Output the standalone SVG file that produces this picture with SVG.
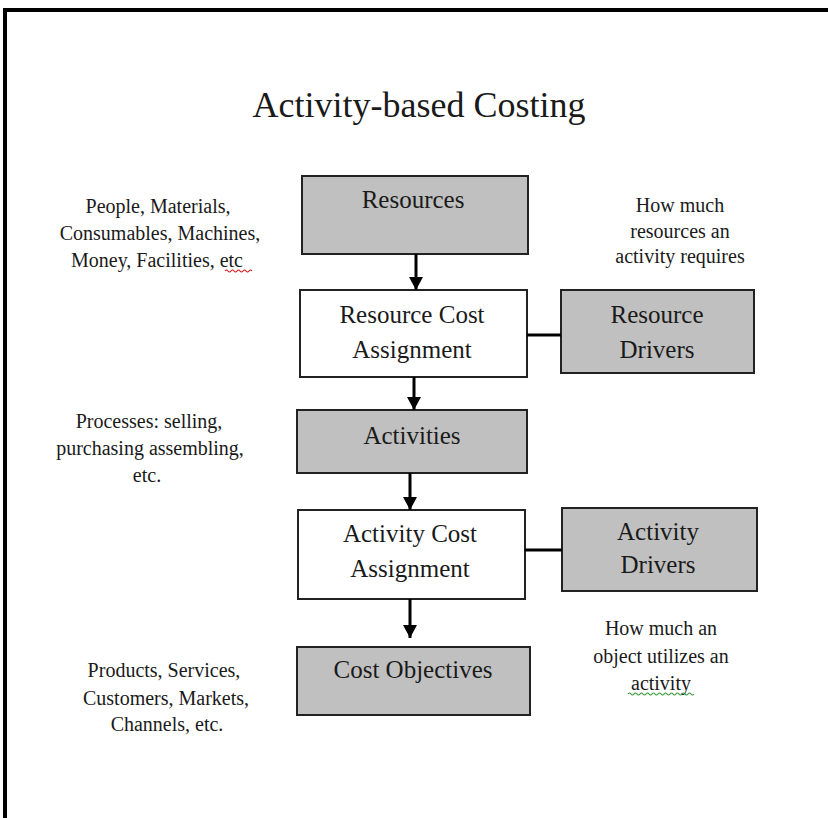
<svg xmlns="http://www.w3.org/2000/svg" width="828" height="818" viewBox="0 0 828 818">
<style>
  .bg { fill: #ffffff; }
  .frame { fill: none; stroke: #000; stroke-width: 4; }
  .gray { fill: #c0c0c0; stroke: #222; stroke-width: 2; }
  .white { fill: #ffffff; stroke: #222; stroke-width: 2; }
  .t { font-family: "Liberation Serif", "Times New Roman", serif; fill: #1a1a1a; text-anchor: middle; }
  .title { font-size: 36px; }
  .box { font-size: 25px; }
  .note { font-size: 20px; }
  .conn { stroke: #000; stroke-width: 3; fill: none; }
  .red { stroke: #d02020; stroke-width: 1.2; fill: none; }
  .green { stroke: #3a9a3a; stroke-width: 1.2; fill: none; }
</style>
<defs>
  <marker id="arrow" markerUnits="userSpaceOnUse" markerWidth="14" markerHeight="14" refX="13" refY="7" orient="auto">
    <path d="M0,0 L13,7 L0,14 z" fill="#000"/>
  </marker>
</defs>
<rect class="bg" x="0" y="0" width="828" height="818"/>
<path class="frame" d="M5,818 V10 H828"/>

<text class="t title" x="419" y="117">Activity-based Costing</text>

<g id="resources">
  <rect class="gray" x="302" y="176" width="226" height="78"/>
  <text class="t box" x="413" y="208">Resources</text>
</g>
<g id="resource-cost-assignment">
  <rect class="white" x="300" y="290" width="227" height="87"/>
  <text class="t box" x="412" y="323">Resource Cost</text>
  <text class="t box" x="412" y="358">Assignment</text>
</g>
<g id="resource-drivers">
  <rect class="gray" x="561" y="290" width="193" height="83"/>
  <text class="t box" x="657" y="323">Resource</text>
  <text class="t box" x="657" y="358">Drivers</text>
</g>
<g id="activities">
  <rect class="gray" x="297" y="410" width="230" height="63"/>
  <text class="t box" x="412" y="444">Activities</text>
</g>
<g id="activity-cost-assignment">
  <rect class="white" x="298" y="510" width="227" height="89"/>
  <text class="t box" x="410" y="542">Activity Cost</text>
  <text class="t box" x="410" y="577">Assignment</text>
</g>
<g id="activity-drivers">
  <rect class="gray" x="562" y="508" width="195" height="83"/>
  <text class="t box" x="658" y="540">Activity</text>
  <text class="t box" x="658" y="573">Drivers</text>
</g>
<g id="cost-objectives">
  <rect class="gray" x="297" y="647" width="233" height="68"/>
  <text class="t box" x="413" y="678">Cost Objectives</text>
</g>

<g id="note-resources">
  <text class="t note" x="158" y="213">People, Materials,</text>
  <text class="t note" x="160" y="240">Consumables, Machines,</text>
  <text class="t note" x="157" y="267">Money, Facilities, etc</text>
  <path class="red" d="M225,271 q1.5,-2 3,0 t3,0 t3,0 t3,0 t3,0 t3,0 t3,0 t3,0 t3,0"/>
</g>
<g id="note-resource-drivers">
  <text class="t note" x="680" y="212">How much</text>
  <text class="t note" x="680" y="238">resources an</text>
  <text class="t note" x="680" y="263">activity requires</text>
</g>
<g id="note-activities">
  <text class="t note" x="149" y="428">Processes: selling,</text>
  <text class="t note" x="150" y="455">purchasing assembling,</text>
  <text class="t note" x="147" y="482">etc.</text>
</g>
<g id="note-activity-drivers">
  <text class="t note" x="661" y="635">How much an</text>
  <text class="t note" x="661" y="663">object utilizes an</text>
  <text class="t note" x="661" y="690">activity</text>
  <path class="green" d="M628,694 q1.5,-2 3,0 t3,0 t3,0 t3,0 t3,0 t3,0 t3,0 t3,0 t3,0 t3,0 t3,0 t3,0 t3,0 t3,0 t3,0 t3,0 t3,0 t3,0 t3,0 t3,0 t3,0 t3,0"/>
</g>
<g id="note-cost-objectives">
  <text class="t note" x="164" y="677">Products, Services,</text>
  <text class="t note" x="166" y="705">Customers, Markets,</text>
  <text class="t note" x="167" y="731">Channels, etc.</text>
</g>

<g id="connectors">
  <line class="conn" x1="416" y1="254" x2="416" y2="290" marker-end="url(#arrow)"/>
  <line class="conn" x1="414" y1="377" x2="414" y2="410" marker-end="url(#arrow)"/>
  <line class="conn" x1="410" y1="473" x2="410" y2="510" marker-end="url(#arrow)"/>
  <line class="conn" x1="410" y1="599" x2="410" y2="638" marker-end="url(#arrow)"/>
  <line class="conn" x1="527" y1="335" x2="561" y2="335"/>
  <line class="conn" x1="525" y1="550" x2="562" y2="550"/>
</g>
</svg>
